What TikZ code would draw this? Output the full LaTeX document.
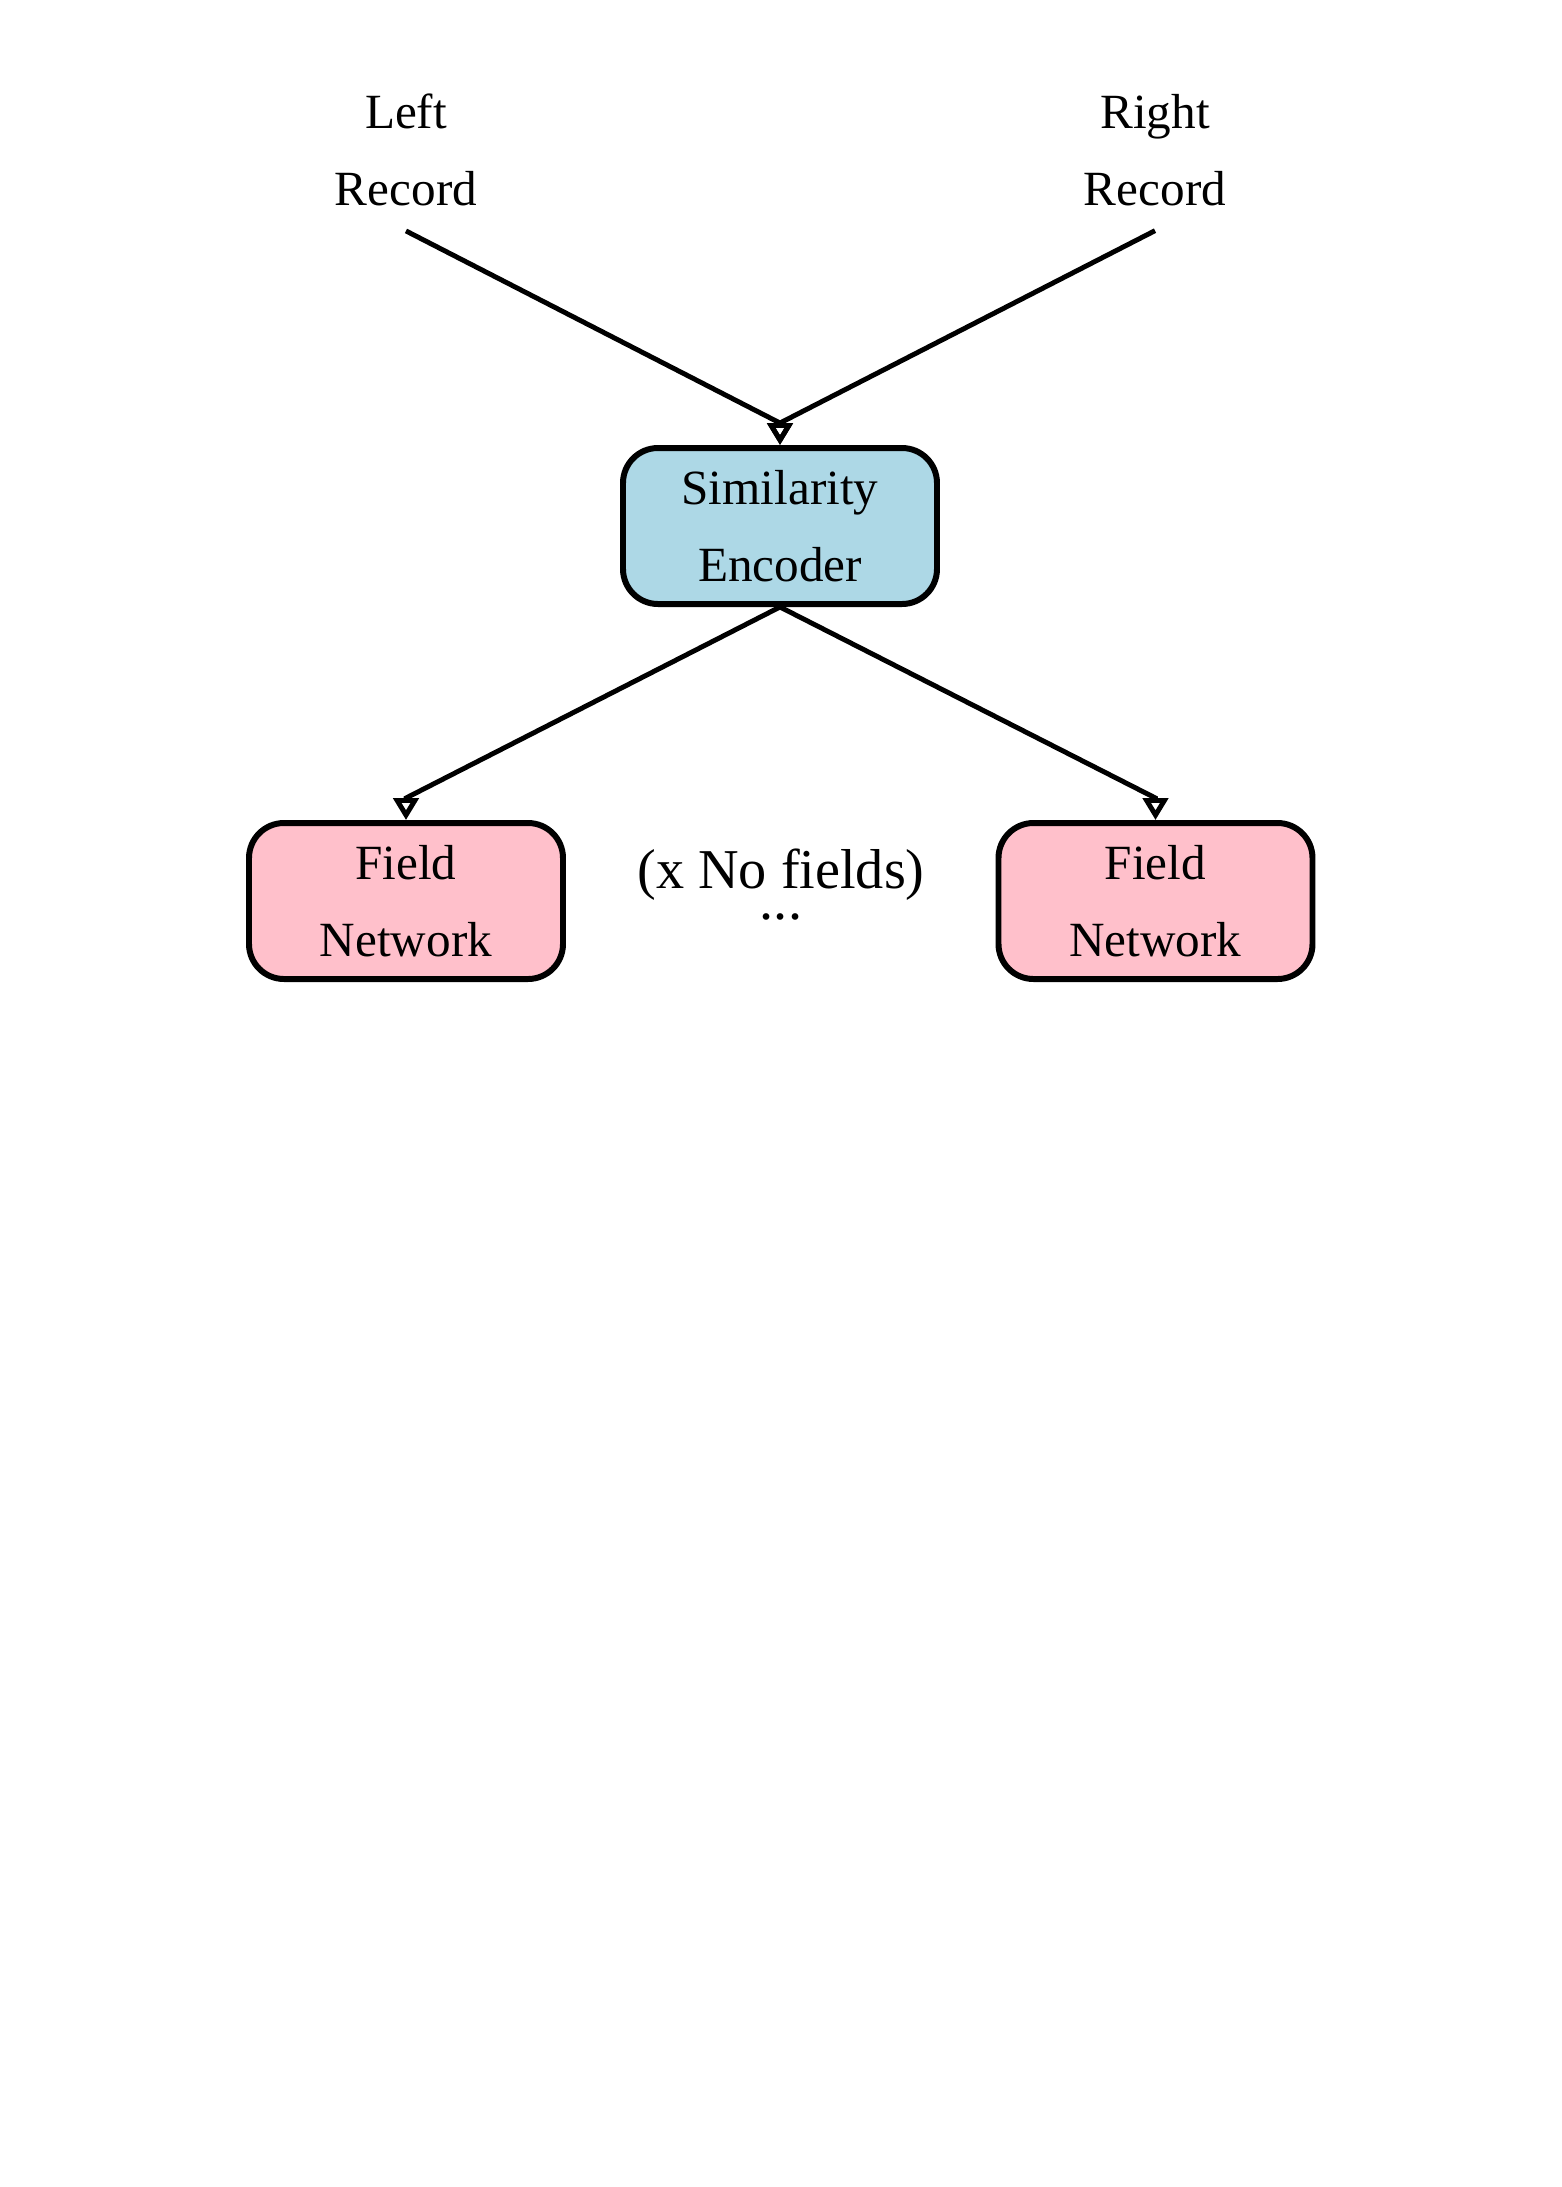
\documentclass[tikz,border=0pt]{standalone}
\usepackage{fontspec}
\setmainfont{Liberation Serif}
\usetikzlibrary{arrows.meta}
\usetikzlibrary{positioning}

\definecolor{encblue}{RGB}{173,216,230}
\definecolor{fieldpink}{RGB}{255,192,203}

\begin{document}
\begin{tikzpicture}[
		netbox/.style={draw, line width=1.7pt, rounded corners=0.35cm, minimum width=3.14cm, minimum height=1.56cm, align=center, font=\fontsize{14}{22}\selectfont},
		record/.style={align=center, inner xsep=0pt, inner ysep=0.24cm, font=\fontsize{14}{22}\selectfont},
		feed/.style={line width=1.4pt, -{Triangle[open, length=0.22cm, width=0.25cm]}}
	]
		\useasboundingbox (0,0) rectangle (15.62,-21.87);
		\node[record] (leftrec) at (4.06,-1.50) {Left\\Record};
		\node[record] (rightrec) at (11.55,-1.50) {Right\\Record};
		\node[netbox, fill=encblue] (simenc) at (7.80,-5.26) {Similarity\\Encoder};
		\node[netbox, fill=fieldpink] (fieldl) at (4.06,-9.01) {Field\\Network};
		\node[netbox, fill=fieldpink] (fieldr) at (11.555,-9.01) {Field\\Network};
		\node[anchor=base, inner sep=0pt, font=\fontsize{16}{18}\selectfont] (nofields) at (7.81,-8.88) {(x No fields)};
		\node[anchor=base, inner sep=0pt, font=\fontsize{16}{18}\selectfont] (dots) at (7.81,-9.19) {...};
		\draw[feed] (leftrec.south) -- ([yshift=0.22cm]simenc.north) -- (simenc.north);
		\draw[feed] (rightrec.south) -- ([yshift=0.22cm]simenc.north) -- (simenc.north);
		\draw[feed] (simenc.south) -- ([yshift=0.22cm]fieldl.north) -- (fieldl.north);
		\draw[feed] (simenc.south) -- ([yshift=0.22cm]fieldr.north) -- (fieldr.north);
	\end{tikzpicture}
\end{document}
